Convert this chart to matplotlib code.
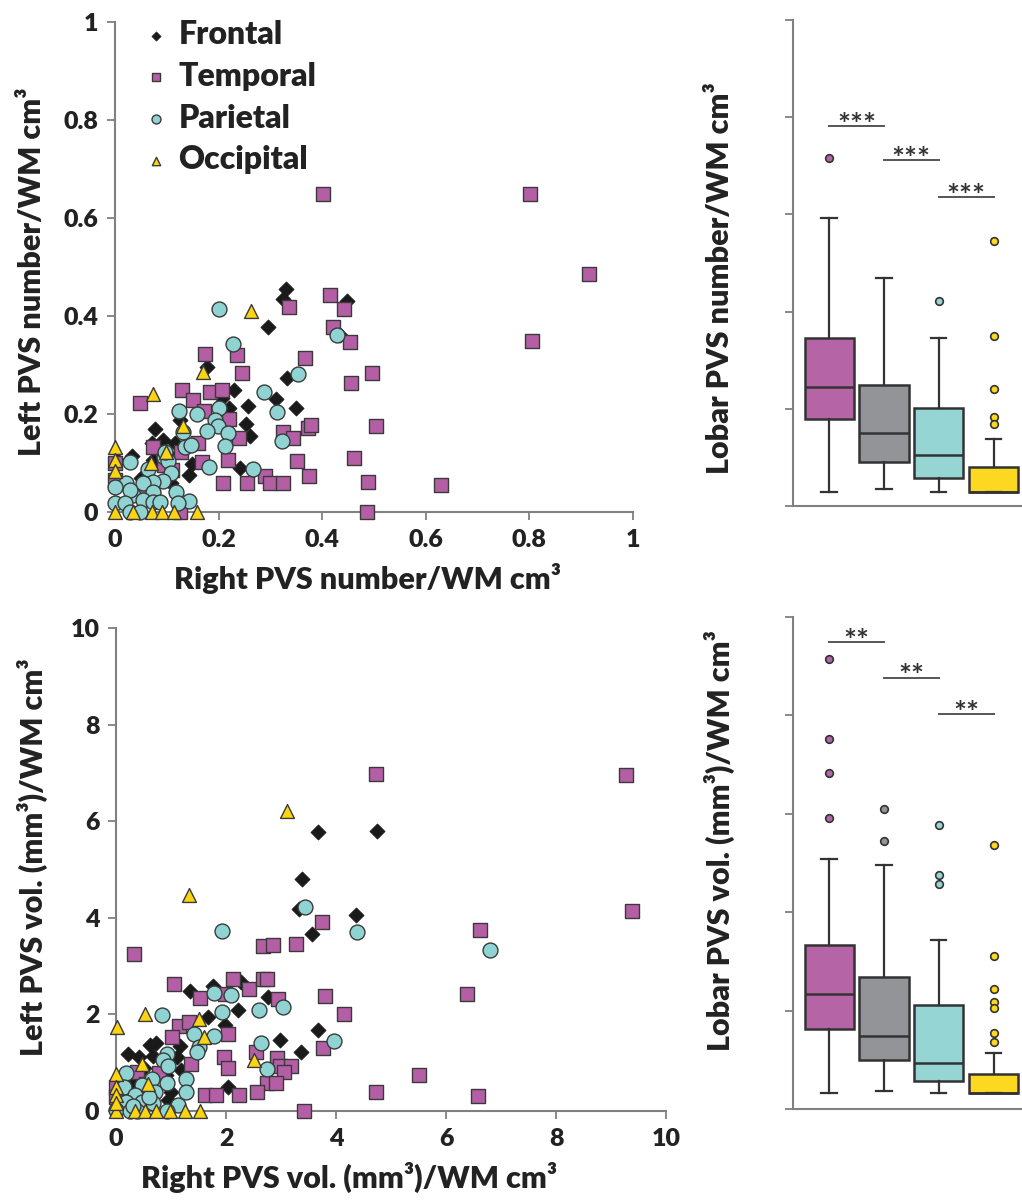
import matplotlib
matplotlib.use("Agg")
import matplotlib.pyplot as plt

plt.rcParams['font.family'] = ['Lato', 'DejaVu Sans']
plt.rcParams['font.weight'] = 'heavy'
plt.rcParams['axes.labelweight'] = 'heavy'

# ---------------- data: PVS number / WM cm3 ----------------
regions = ['Frontal', 'Temporal', 'Parietal', 'Occipital']

num_frontal_x = [0.331, 0.325, 0.447, 0.296, 0.178, 0.333, 0.230, 0.206, 0.310, 0.349, 0.256, 0.221,
                 0.125, 0.252, 0.261, 0.077, 0.093, 0.071, 0.032, 0.148, 0.241, 0.142, 0.051, 0.109,
                 0.074, 0.003, 0.434, 0.020, 0.055, 0.100, 0.115, 0.085]
num_frontal_y = [0.456, 0.435, 0.431, 0.378, 0.295, 0.273, 0.250, 0.232, 0.231, 0.212, 0.216, 0.212,
                 0.188, 0.179, 0.155, 0.169, 0.147, 0.140, 0.115, 0.097, 0.089, 0.076, 0.069, 0.059,
                 0.106, 0.106, 0.361, 0.060, 0.035, 0.120, 0.140, 0.105]

num_temporal_x = [0.401, 0.802, 0.915, 0.805, 0.415, 0.336, 0.442, 0.421, 0.453, 0.174, 0.236, 0.246,
                  0.366, 0.497, 0.455, 0.048, 0.129, 0.151, 0.172, 0.183, 0.206, 0.221, 0.240, 0.325,
                  0.343, 0.372, 0.378, 0.503, 0.074, 0.161, 0.127, 0.095, 0.167, 0.218, 0.351, 0.462,
                  0.209, 0.255, 0.290, 0.300, 0.325, 0.375, 0.489, 0.629, 0.486, 0.125, 0.000, 0.000,
                  0.110, 0.050]
num_temporal_y = [0.649, 0.649, 0.485, 0.350, 0.443, 0.418, 0.414, 0.378, 0.346, 0.322, 0.320, 0.284,
                  0.314, 0.283, 0.263, 0.223, 0.250, 0.229, 0.207, 0.245, 0.248, 0.189, 0.152, 0.164,
                  0.152, 0.171, 0.178, 0.176, 0.133, 0.140, 0.123, 0.096, 0.103, 0.106, 0.104, 0.111,
                  0.059, 0.059, 0.073, 0.059, 0.059, 0.073, 0.062, 0.056, 0.000, 0.000, 0.065, 0.099,
                  0.085, 0.040]

num_parietal_x = [0.201, 0.228, 0.353, 0.288, 0.312, 0.322, 0.428, 0.124, 0.158, 0.201, 0.193, 0.199,
                  0.177, 0.218, 0.132, 0.212, 0.135, 0.146, 0.267, 0.181, 0.095, 0.103, 0.028, 0.064,
                  0.108, 0.093, 0.074, 0.055, 0.021, 0.000, 0.035, 0.028, 0.074, 0.118, 0.055, 0.073,
                  0.143, 0.086, 0.000, 0.019, 0.028, 0.048, 0.122, 0.097]
num_parietal_y = [0.414, 0.342, 0.282, 0.244, 0.205, 0.144, 0.361, 0.206, 0.200, 0.212, 0.188, 0.176,
                  0.166, 0.162, 0.164, 0.135, 0.133, 0.137, 0.087, 0.091, 0.113, 0.104, 0.103, 0.087,
                  0.079, 0.063, 0.062, 0.059, 0.059, 0.052, 0.035, 0.045, 0.041, 0.040, 0.024, 0.021,
                  0.023, 0.020, 0.019, 0.019, 0.000, 0.000, 0.018, 0.123]

num_occipital_x = [0.262, 0.169, 0.074, 0.131, 0.098, 0.069, 0.000, 0.000, 0.000, 0.000, 0.071, 0.090,
                   0.114, 0.158, 0.035]
num_occipital_y = [0.410, 0.286, 0.241, 0.176, 0.123, 0.101, 0.133, 0.106, 0.084, 0.000, 0.000, 0.000,
                   0.000, 0.000, 0.000]

# ---------------- data: PVS volume (mm3) / WM cm3 ----------------
vol_frontal_x = [3.68, 4.74, 3.38, 3.33, 4.36, 3.57, 1.35, 1.77, 2.27, 2.77, 2.22, 1.68, 1.98, 3.67,
                 2.98, 3.36, 0.61, 0.73, 1.16, 0.21, 0.41, 0.68, 1.10, 2.04, 0.95, 1.19, 0.30, 0.50,
                 0.90, 1.00]
vol_frontal_y = [5.77, 5.80, 4.80, 4.18, 4.06, 3.66, 2.49, 2.59, 2.68, 2.37, 2.09, 1.95, 1.79, 1.68,
                 1.46, 1.23, 1.37, 1.40, 1.35, 1.18, 1.12, 1.14, 1.11, 0.49, 0.23, 0.85, 0.60, 0.90,
                 0.75, 0.40]

vol_temporal_x = [4.72, 9.27, 9.39, 6.62, 3.75, 6.39, 3.80, 4.15, 3.76, 5.51, 4.73, 6.59, 3.41, 0.33,
                  1.05, 1.53, 1.98, 2.12, 2.42, 2.68, 2.74, 2.68, 2.85, 3.28, 2.95, 1.15, 1.32, 1.01,
                  2.04, 1.96, 2.04, 1.36, 2.92, 2.55, 2.98, 3.19, 3.06, 0.79, 0.39, 2.74, 2.91, 1.61,
                  1.81, 2.24, 2.57, 0.00, 0.00, 0.55]
vol_temporal_y = [6.98, 6.96, 4.14, 3.75, 3.91, 2.42, 2.39, 2.00, 1.30, 0.75, 0.40, 0.31, 0.00, 3.26,
                  2.63, 2.33, 2.42, 2.73, 2.53, 2.73, 2.73, 3.42, 3.44, 3.46, 2.32, 1.77, 1.84, 1.53,
                  1.59, 1.12, 0.90, 0.97, 1.09, 1.23, 0.94, 0.94, 0.81, 0.78, 0.81, 0.57, 0.57, 0.33,
                  0.33, 0.33, 0.39, 0.50, 0.30, 0.55]

vol_parietal_x = [3.44, 4.38, 6.80, 3.97, 1.92, 0.84, 1.78, 2.09, 1.93, 2.60, 3.03, 1.42, 1.78, 1.50,
                  1.47, 2.64, 0.92, 0.86, 0.95, 0.18, 2.75, 0.65, 1.28, 0.92, 0.47, 0.15, 0.71, 1.27,
                  0.35, 0.07, 0.19, 0.48, 0.67, 1.13, 0.00, 0.25, 0.38, 0.92, 0.60, 0.30]
vol_parietal_y = [4.22, 3.70, 3.33, 1.45, 3.73, 1.99, 2.44, 2.40, 2.06, 2.09, 2.16, 1.59, 1.55, 1.33,
                  1.23, 1.41, 1.18, 1.06, 0.93, 0.79, 0.86, 0.66, 0.66, 0.57, 0.54, 0.50, 0.39, 0.40,
                  0.33, 0.19, 0.19, 0.19, 0.17, 0.12, 0.02, 0.00, 0.00, 0.00, 0.30, 0.10]

vol_occipital_x = [3.10, 1.32, 0.53, 0.01, 1.51, 1.60, 0.48, 2.50, 0.58, 0.00, 0.00, 0.00, 0.00, 0.35,
                   0.53, 0.73, 0.99, 1.25, 1.52, 0.00]
vol_occipital_y = [6.22, 4.47, 2.01, 1.73, 1.90, 1.54, 0.97, 1.06, 0.56, 0.77, 0.50, 0.33, 0.00, 0.00,
                   0.00, 0.00, 0.00, 0.00, 0.00, 0.16]

# ---------------- box plot summaries (Temporal, Frontal, Parietal, Occipital order as drawn) ----------
box_order = ['Temporal', 'Frontal', 'Parietal', 'Occipital']
num_q1 = [0.180, 0.091, 0.058, 0.029]
num_med = [0.245, 0.151, 0.105, 0.029]
num_q3 = [0.346, 0.248, 0.202, 0.080]
num_whislo = [0.029, 0.036, 0.029, 0.029]
num_whishi = [0.593, 0.470, 0.346, 0.138]
num_fliers = [[0.717], [], [0.422], [0.545, 0.350, 0.241, 0.183, 0.169]]
num_sig_y = [0.782, 0.712, 0.636]
num_sig_text = ['***', '***', '***']

vol_q1 = [1.63, 0.99, 0.57, 0.32]
vol_med = [2.33, 1.48, 0.93, 0.32]
vol_q3 = [3.33, 2.69, 2.11, 0.71]
vol_whislo = [0.32, 0.36, 0.32, 0.32]
vol_whishi = [5.09, 4.95, 3.43, 1.14]
vol_fliers = [[9.15, 7.53, 6.82, 5.91], [6.10, 5.44], [5.77, 4.76, 4.57],
              [5.37, 3.11, 2.43, 2.17, 2.05, 1.54, 1.36]]
vol_sig_y = [9.49, 8.77, 8.03]
vol_sig_text = ['**', '**', '**']

num_ticks = [0, 0.2, 0.4, 0.6, 0.8, 1]
num_tick_labels = ['0', '0.2', '0.4', '0.6', '0.8', '1']
vol_ticks = [0, 2, 4, 6, 8, 10]
vol_tick_labels = ['0', '2', '4', '6', '8', '10']

# ---------------- styling ----------------
C_MAG = '#b45fa5'
C_BLK = '#1a1a1a'
C_CYA = '#8fd4d3'
C_YEL = '#fbd412'
BOX_COLORS = {'Temporal': '#b564a5', 'Frontal': '#939498', 'Parietal': '#95d6d5', 'Occipital': '#fdd820'}
SPINE = '#808080'
TXT = '#222222'
WT = 'heavy'

marker_style = {
    'Frontal': dict(marker='D', s=60, c=C_BLK, edgecolors=C_BLK, linewidths=0.5),
    'Temporal': dict(marker='s', s=105, c=C_MAG, edgecolors='#3a3a3a', linewidths=1.0),
    'Parietal': dict(marker='o', s=115, c=C_CYA, edgecolors='#3a3a3a', linewidths=1.0),
    'Occipital': dict(marker='^', s=100, c=C_YEL, edgecolors='#3a3a3a', linewidths=1.0),
}

fig = plt.figure(figsize=(10.22, 12.03), dpi=100)
W, H = 1022.0, 1203.0


def axes_px(left, top, right, bottom):
    return fig.add_axes([left / W, 1 - bottom / H, (right - left) / W, (bottom - top) / H])


def style_axes(ax):
    for s in ['top', 'right']:
        ax.spines[s].set_visible(False)
    for s in ['left', 'bottom']:
        ax.spines[s].set_color(SPINE)
        ax.spines[s].set_linewidth(1.5)
    ax.tick_params(direction='out', length=6, width=1.3, color=SPINE,
                   labelsize=18, labelcolor=TXT, pad=6)
    for lab in ax.get_xticklabels() + ax.get_yticklabels():
        lab.set_fontweight(WT)


def scatter_panel(ax, data, ticks, labels, xlabel, ylabel, lim, xlab_x, ylab_x, ylab_y):
    handles = []
    for reg in regions:
        xs, ys = data[reg]
        h = ax.scatter(xs, ys, clip_on=False, zorder=3, label=reg, **marker_style[reg])
        handles.append(h)
    ax.set_xlim(0, lim)
    ax.set_ylim(0, lim)
    ax.set_xticks(ticks, labels)
    ax.set_yticks(ticks, labels)
    style_axes(ax)
    ax.set_xlabel(xlabel, fontsize=22, color=TXT, fontweight=WT)
    ax.set_ylabel(ylabel, fontsize=22, color=TXT, fontweight=WT)
    ax.xaxis.set_label_coords(xlab_x, -0.105)
    ax.yaxis.set_label_coords(ylab_x, ylab_y)
    ax.yaxis.label.set_va('center')
    return handles


def box_panel(ax, q1, med, q3, lo, hi, fliers, ylim, ticks, sig_y, sig_text, ylabel, ylab_y):
    stats = []
    for i in range(4):
        stats.append(dict(q1=q1[i], med=med[i], q3=q3[i], whislo=lo[i], whishi=hi[i],
                          fliers=fliers[i]))
    bp = ax.bxp(stats, positions=[1, 2, 3, 4], widths=0.9, capwidths=0.28, patch_artist=True,
                showfliers=True,
                boxprops=dict(edgecolor='#333333', linewidth=1.8),
                medianprops=dict(color='#333333', linewidth=1.8),
                whiskerprops=dict(color='#333333', linewidth=1.6),
                capprops=dict(color='#333333', linewidth=1.6),
                flierprops=dict(marker='o', markersize=5.5, markeredgecolor='#333333',
                                markeredgewidth=1.2))
    for i, reg in enumerate(box_order):
        bp['boxes'][i].set_facecolor(BOX_COLORS[reg])
        bp['fliers'][i].set_markerfacecolor(BOX_COLORS[reg])
    ax.set_xlim(0.34, 4.52)
    ax.set_ylim(*ylim)
    ax.set_yticks(ticks, [''] * len(ticks))
    ax.set_xticks([])
    style_axes(ax)
    for i in range(3):
        ax.plot([1 + i, 2 + i], [sig_y[i], sig_y[i]], color='#555555', lw=1.4, clip_on=False)
        ax.annotate(sig_text[i], xy=(1.5 + i, sig_y[i]), xytext=(0, -10), textcoords='offset points',
                    ha='center', va='bottom', fontsize=22, color='#333333', fontweight='bold')
    ax.set_ylabel(ylabel, fontsize=22, color=TXT, fontweight=WT)
    ax.yaxis.set_label_coords(-0.319, ylab_y)
    ax.yaxis.label.set_va('center')


# top scatter
ax1 = axes_px(115, 22, 633, 512)
h = scatter_panel(ax1,
                  {'Frontal': (num_frontal_x, num_frontal_y),
                   'Temporal': (num_temporal_x, num_temporal_y),
                   'Parietal': (num_parietal_x, num_parietal_y),
                   'Occipital': (num_occipital_x, num_occipital_y)},
                  num_ticks, num_tick_labels,
                  'Right PVS number/WM cm³', 'Left PVS number/WM cm³', 1,
                  0.488, (32 - 115) / 518, 0.49)
leg = ax1.legend(handles=h, loc='upper left', bbox_to_anchor=(121 / W, 1 - 4 / H),
                 bbox_transform=fig.transFigure, frameon=False, markerscale=0.6,
                 handletextpad=0.1, labelspacing=0.40, borderpad=0, handlelength=1.2,
                 prop=dict(size=23, weight=WT))
for t in leg.get_texts():
    t.set_color(TXT)

# bottom scatter
ax2 = axes_px(116, 628, 666, 1111)
scatter_panel(ax2,
              {'Frontal': (vol_frontal_x, vol_frontal_y),
               'Temporal': (vol_temporal_x, vol_temporal_y),
               'Parietal': (vol_parietal_x, vol_parietal_y),
               'Occipital': (vol_occipital_x, vol_occipital_y)},
              vol_ticks, vol_tick_labels,
              'Right PVS vol. (mm³)/WM cm³', 'Left PVS vol. (mm³)/WM cm³', 10,
              0.424, (32 - 116) / 550, 0.526)

# top box plot
ax3 = axes_px(793, 20, 1022, 506)
box_panel(ax3, num_q1, num_med, num_q3, num_whislo, num_whishi, num_fliers, (0, 1), num_ticks,
          num_sig_y, num_sig_text, 'Lobar PVS number/WM cm³', 0.469)

# bottom box plot
ax4 = axes_px(793, 617, 1022, 1109)
box_panel(ax4, vol_q1, vol_med, vol_q3, vol_whislo, vol_whishi, vol_fliers, (0, 10), vol_ticks,
          vol_sig_y, vol_sig_text, 'Lobar PVS vol. (mm³)/WM cm³', 0.546)

fig.savefig('out.png', dpi=100, facecolor='white')
